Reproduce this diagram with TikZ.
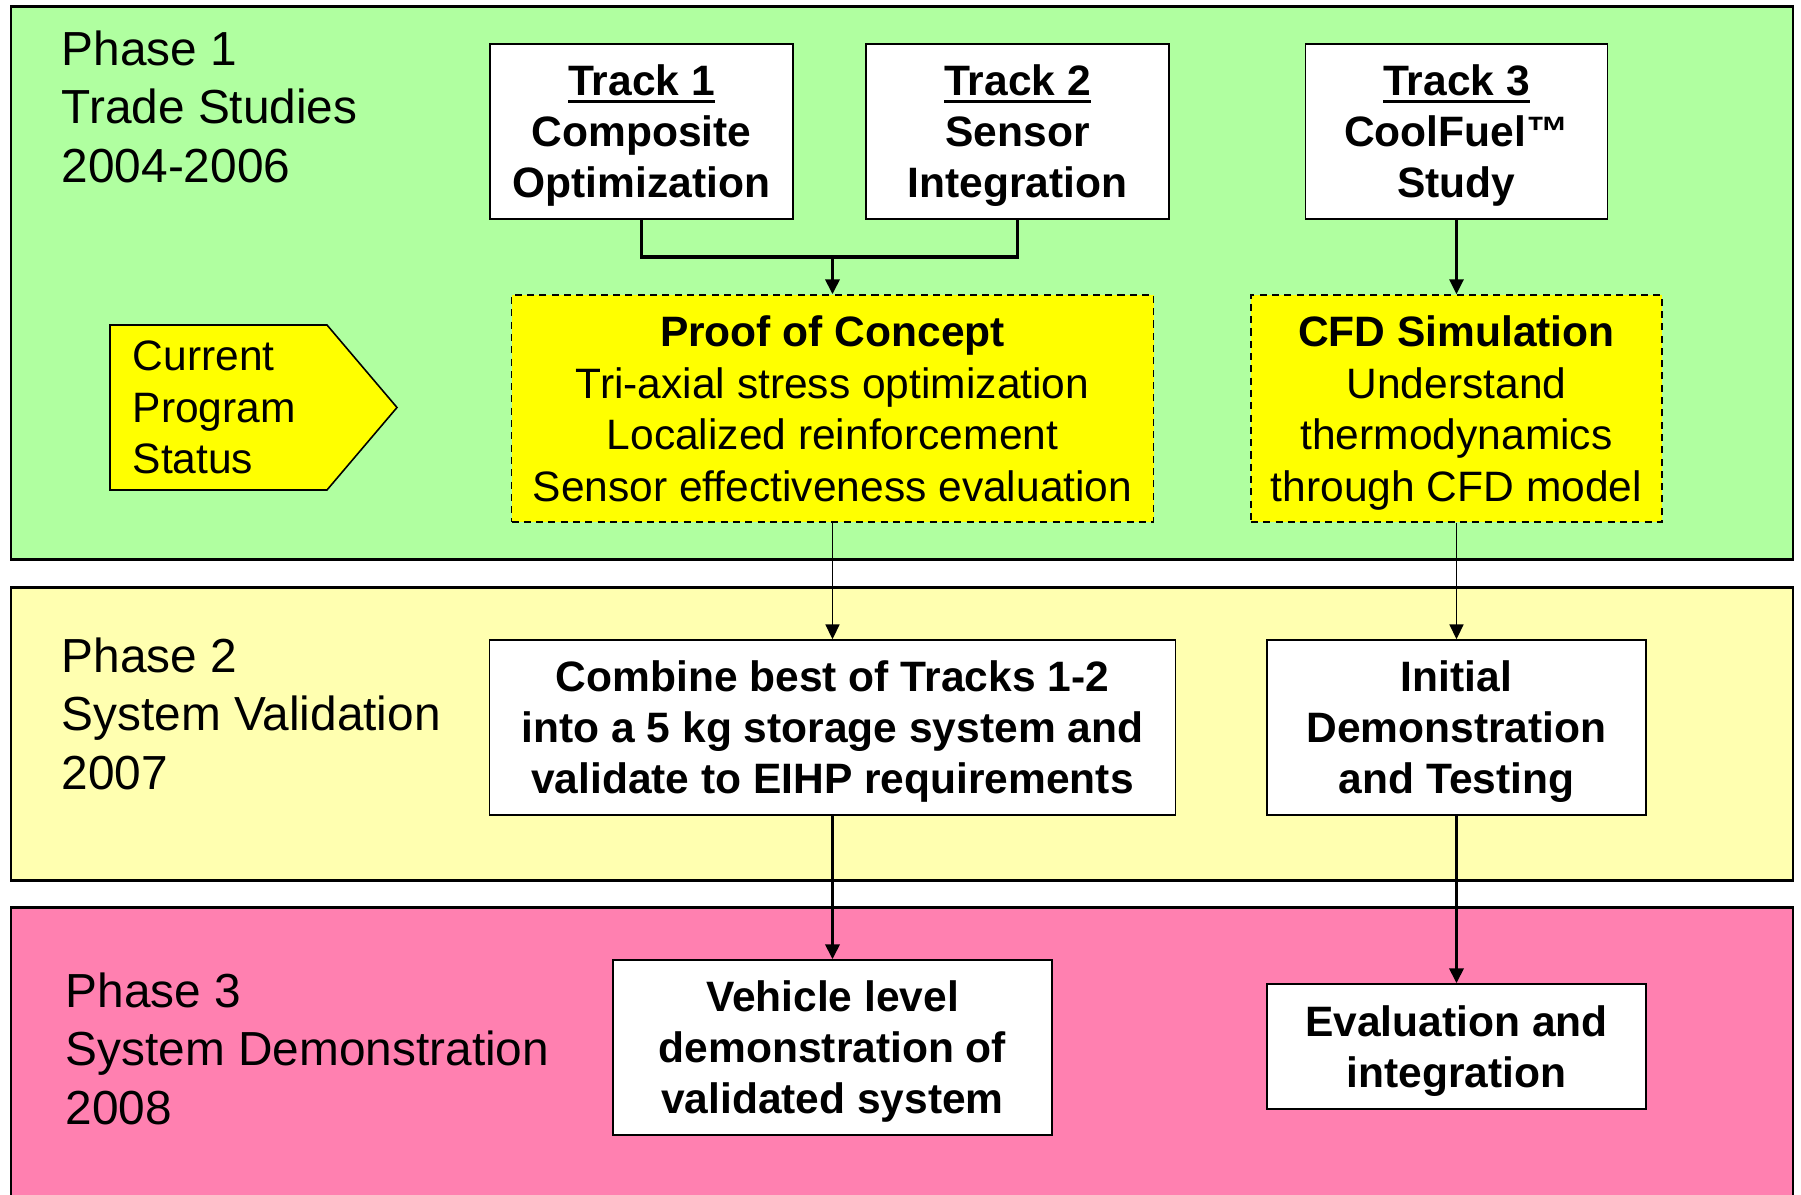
\documentclass[tikz,border=0pt]{standalone}
\usepackage{fontspec}
\setmainfont{Liberation Sans}
\usetikzlibrary{arrows.meta}
\definecolor{Ink}{HTML}{000000}
\definecolor{tradefill}{HTML}{B0FFA0}
\definecolor{valfill}{HTML}{FFFFB0}
\definecolor{demofill}{HTML}{FF80B0}
\definecolor{pocfill}{HTML}{FFFF00}
% struts so that every box text sits the same way
\newcommand{\topline}{\rule{0pt}{11.5pt}}
\newcommand{\botline}{\rule[-2.7pt]{0pt}{2.7pt}}
\newcommand{\trackhead}[1]{\vtop{\hbox{#1}\kern1.1pt\hrule height 0.8pt}}
\tikzset{
  band/.style={draw=Ink,line width=0.85pt},
  lbl/.style={anchor=north west,inner sep=0pt,align=left,font=\fontsize{13.6}{16.6}\selectfont},
  bx/.style={rectangle,draw=Ink,fill=white,line width=0.45pt,align=center,inner sep=0pt,font=\bfseries\fontsize{12.1}{14.5}\selectfont},
  hx/.style={rectangle,draw=Ink,fill=pocfill,line width=0.45pt,dash pattern=on 2pt off 1.5pt,align=center,inner sep=0pt,font=\fontsize{12.1}{14.7}\selectfont},
  sx/.style={draw=Ink,fill=pocfill,line width=0.45pt},
  st/.style={anchor=west,inner sep=0pt,align=left,font=\fontsize{12.1}{14.6}\selectfont},
  wire/.style={draw=Ink,line width=0.9pt},
  ctl/.style={wire,-{Triangle[length=4.2pt,width=4pt]}},
  fine/.style={draw=Ink,line width=0.4pt,-{Triangle[length=4.2pt,width=4pt]}},
}
\begin{document}
\begin{tikzpicture}[x=0.1mm,y=-0.1mm]
\path[use as bounding box,fill=white] (0,0) rectangle (1801,1195);
% -phase bands-
\draw[band,fill=tradefill] (11,7) rectangle (1793,560);
\draw[band,fill=valfill] (11,588) rectangle (1793,881);
\draw[band,fill=demofill] (11,908) rectangle (1793,1215);
\node[lbl] (p1) at (61,30) {Phase 1\\Trade Studies\\2004-2006};
\node[lbl] (p2) at (61,637) {Phase 2\\System Validation\\2007};
\node[lbl] (p3) at (65,972) {Phase 3\\System Demonstration\\2008};
% -phase 1-
\node[bx,minimum width=30.3mm,minimum height=17.5mm] (t1) at (641.5,131.5) {\topline\trackhead{Track 1}\\Composite\\Optimization\botline};
\node[bx,minimum width=30.3mm,minimum height=17.5mm] (t2) at (1017.5,131.5) {\topline\trackhead{Track 2}\\Sensor\\Integration\botline};
\node[bx,minimum width=30.2mm,minimum height=17.5mm] (t3) at (1456.5,131.5) {\topline\trackhead{Track 3}\\CoolFuel™\\Study\botline};
\node[hx,minimum width=64.2mm,minimum height=22.7mm] (poc) at (832.5,408.5) {\topline\textbf{Proof of Concept}\\Tri-axial stress optimization\\Localized reinforcement\\Sensor effectiveness evaluation\botline};
\node[hx,minimum width=41.1mm,minimum height=22.7mm] (cfd) at (1456.5,408.5) {\topline\textbf{CFD Simulation}\\Understand\\thermodynamics\\through CFD model\botline};
\draw[sx] (110,325) -- (327,325) -- (397,407.5) -- (327,490) -- (110,490) -- cycle;
\node[st] (cps) at (132,407.5) {Current\\Program\\Status};
\coordinate (join) at (832.5,257);
\draw[wire] (t1.south) |- (join) -| (t2.south);
\draw[ctl] (join) -- (poc.north);
\draw[ctl,line width=0.75pt] (t3.south) -- (cfd.north);
% -phase 2-
\node[bx,minimum width=68.6mm,minimum height=17.5mm] (comb) at (832.5,727.5) {\topline Combine best of Tracks 1-2\\into a 5 kg storage system and\\validate to EIHP requirements\botline};
\node[bx,minimum width=37.9mm,minimum height=17.5mm] (init) at (1456.5,727.5) {\topline Initial\\Demonstration\\and Testing\botline};
\draw[fine] (poc.south) -- (comb.north);
\draw[fine] (cfd.south) -- (init.north);
% -phase 3-
\node[bx,minimum width=43.9mm,minimum height=17.5mm] (veh) at (832.5,1047.5) {\topline Vehicle level\\demonstration of\\validated system\botline};
\node[bx,minimum width=37.9mm,minimum height=12.5mm] (eval) at (1456.5,1046.5) {\topline Evaluation and\\integration\botline};
\draw[ctl] (comb.south) -- (veh.north);
\draw[ctl] (init.south) -- (eval.north);
\end{tikzpicture}
\end{document}
